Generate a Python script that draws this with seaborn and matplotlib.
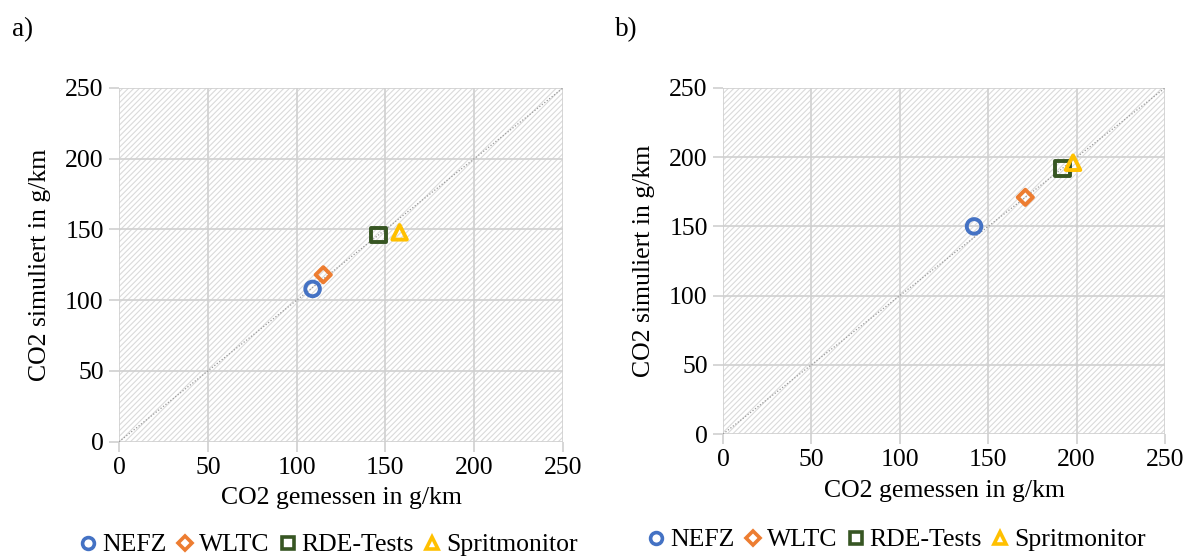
import numpy as np
import pandas as pd
import matplotlib
matplotlib.use("Agg")
import matplotlib.pyplot as plt
from matplotlib.patches import Rectangle
from matplotlib.lines import Line2D
import seaborn as sns

# Measured vs simulated CO2 emissions per test cycle, two vehicles
cycles = ["NEFZ", "WLTC", "RDE-Tests", "Spritmonitor"]
measured_a = [109, 115, 146, 158]
simulated_a = [108, 118, 146, 148]
measured_b = [142, 171, 192, 198]
simulated_b = [150, 171, 192, 196]
ticks = [0, 50, 100, 150, 200, 250]

colors = {"NEFZ": "#4472C4", "WLTC": "#ED7D31",
          "RDE-Tests": "#375623", "Spritmonitor": "#FFC000"}
markers = {"NEFZ": "o", "WLTC": "D", "RDE-Tests": "s", "Spritmonitor": "^"}
sizes = {"NEFZ": 110, "WLTC": 60, "RDE-Tests": 110, "Spritmonitor": 110}

sns.set_theme(style="white")
plt.rcParams["font.family"] = ["Liberation Serif", "DejaVu Serif"]
plt.rcParams["text.color"] = "black"
plt.rcParams["axes.labelcolor"] = "black"
plt.rcParams["xtick.color"] = "black"
plt.rcParams["ytick.color"] = "black"
plt.rcParams["hatch.linewidth"] = 0.8

fig = plt.figure(figsize=(11.89, 5.58), dpi=100)
ax_a = fig.add_axes([0.1001, 0.2084, 0.3734, 0.6339])
ax_b = fig.add_axes([0.6081, 0.2222, 0.3717, 0.6201])

FS = 18.5


def draw(ax, meas, sim):
    df = pd.DataFrame({"gemessen": meas, "simuliert": sim, "Zyklus": cycles})
    ax.set_xlim(0, 250)
    ax.set_ylim(0, 250)
    ax.add_patch(Rectangle((0, 0), 1, 1, transform=ax.transAxes,
                           facecolor="white", edgecolor="#dadada",
                           linewidth=0, hatch="//////", zorder=0))
    ax.set_xticks(ticks)
    ax.set_yticks(ticks)
    ax.grid(True, color="#d0d0d0", linewidth=1.2, zorder=1)
    ax.set_axisbelow(True)
    for s in ax.spines.values():
        s.set_visible(False)
    ax.tick_params(axis="both", length=7, width=1.2, color="#d0d0d0",
                   labelcolor="black", labelsize=FS, pad=4, direction="out",
                   bottom=True, left=True)
    ax.plot([0, 250], [0, 250], color="#999999", linestyle=(0, (1, 1.5)),
            linewidth=0.9, zorder=2)
    for cyc in cycles:
        sub = df[df["Zyklus"] == cyc]
        sns.scatterplot(data=sub, x="gemessen", y="simuliert", ax=ax,
                        marker=markers[cyc], s=sizes[cyc],
                        facecolor="none", edgecolor=colors[cyc],
                        linewidth=2.8, zorder=3, legend=False)
    ax.set_xlabel("CO2 gemessen in g/km", fontsize=FS, labelpad=6, color="black")
    ax.set_ylabel("CO2 simuliert in g/km", fontsize=FS, labelpad=10, color="black")
    handles = [Line2D([], [], linestyle="none", marker=markers[c],
                      markersize=8.5 if c != "WLTC" else 7,
                      markerfacecolor="none", markeredgecolor=colors[c],
                      markeredgewidth=2.6, label=c) for c in cycles]
    return handles


h = draw(ax_a, measured_a, simulated_a)
draw(ax_b, measured_b, simulated_b)

legend_kw = dict(ncol=4, frameon=False, fontsize=FS, handlelength=0.8,
                 handletextpad=0.15, columnspacing=0.3, borderaxespad=0)
fig.legend(handles=h, loc="center", bbox_to_anchor=(328 / 1189, 1 - 545 / 558),
           **legend_kw)
fig.legend(handles=h, loc="center", bbox_to_anchor=(896 / 1189, 1 - 540 / 558),
           **legend_kw)

fig.text(12 / 1189, 1 - 30 / 558, "a)", fontsize=FS + 1, va="center", ha="left")
fig.text(615 / 1189, 1 - 30 / 558, "b)", fontsize=FS + 1, va="center", ha="left")

fig.savefig("out.png", dpi=100)
